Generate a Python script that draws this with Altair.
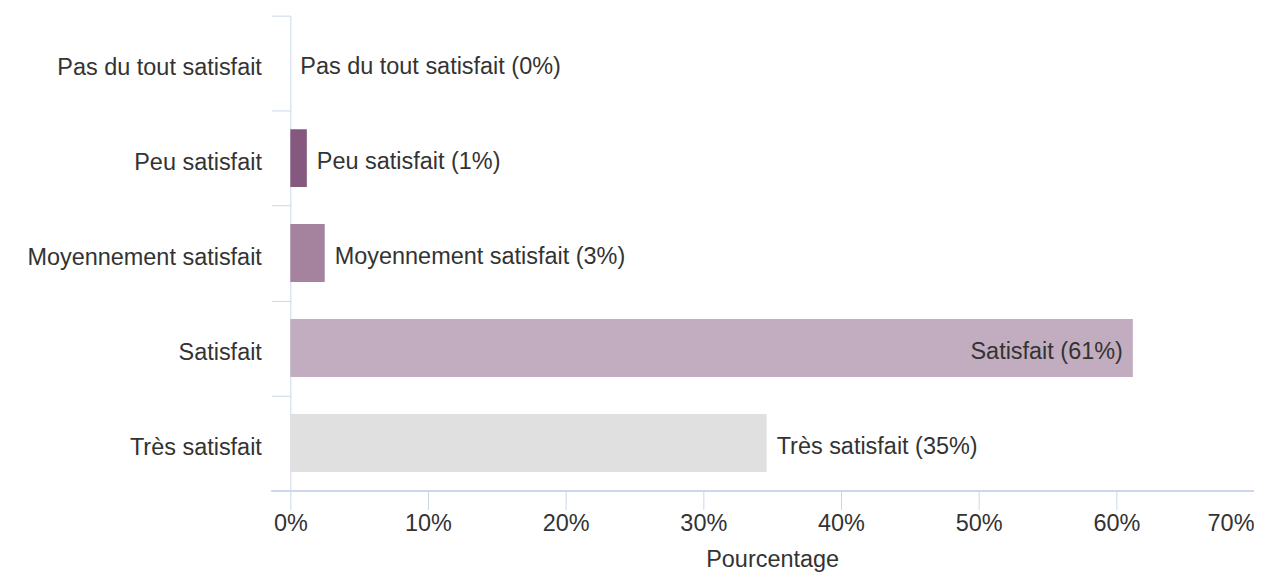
import altair as alt
import pandas as pd

categories = ["Pas du tout satisfait", "Peu satisfait", "Moyennement satisfait", "Satisfait", "Très satisfait"]
values = [0.0, 1.2, 2.5, 61.2, 34.6]
label_pct = [0, 1, 3, 61, 35]
colors = ["#ffffff", "#84587f", "#a5839f", "#c1adbf", "#e0e0e0"]
x_ticks = [0, 10, 20, 30, 40, 50, 60, 70]

df = pd.DataFrame({
    "cat": categories,
    "val": values,
    "lab": [f"{c} ({p}%)" for c, p in zip(categories, label_pct)],
})

W, H = 966, 476
STEP = H / len(categories)
AX = "#ccd6eb"
TXT = "#333333"
FS = 23.5
FONT = "Liberation Sans"
DY = 4

y_enc = alt.Y("cat:N", sort=categories, title=None,
              scale=alt.Scale(paddingInner=0.39, paddingOuter=0.195),
              axis=alt.Axis(tickOffset=-STEP / 2, labelOffset=STEP / 2 + DY,
                            tickSize=19, tickColor=AX, domainColor=AX,
                            labelFontSize=FS, labelColor=TXT, labelFont=FONT, labelPadding=10,
                            labelLimit=400))
x_enc = alt.X("val:Q", title="Pourcentage",
              scale=alt.Scale(domain=[0, 70], nice=False),
              axis=alt.Axis(values=x_ticks, labelExpr="datum.value + '%'", grid=False,
                            domain=False, tickSize=19, tickColor=AX,
                            labelFontSize=FS, labelColor=TXT, labelFont=FONT, labelPadding=2,
                            labelAlign={"condition": {"test": "datum.value == 70", "value": "right"}, "value": "center"},
                            titleFontSize=FS, titleColor=TXT, titleFont=FONT, titleFontWeight="normal",
                            titlePadding=13))

bars = alt.Chart(df).mark_bar().encode(
    x=x_enc, y=y_enc,
    color=alt.Color("cat:N", sort=categories, scale=alt.Scale(domain=categories, range=colors), legend=None),
)

outside = alt.Chart(df).transform_filter("datum.val < 50").mark_text(
    align="left", baseline="middle", dx=10, dy=DY, fontSize=FS, font=FONT, color=TXT
).encode(x="val:Q", y=alt.Y("cat:N", sort=categories), text="lab:N")

inside = alt.Chart(df).transform_filter("datum.val >= 50").mark_text(
    align="right", baseline="middle", dx=-10, dy=DY, fontSize=FS, font=FONT, color=TXT
).encode(x="val:Q", y=alt.Y("cat:N", sort=categories), text="lab:N")

base_line = alt.Chart(df).mark_rule(color=AX, strokeWidth=1).encode(
    x=alt.value(-19), x2=alt.value(W + 0.5), y=alt.value(H + 0.5)
)

chart = alt.layer(bars, outside, inside, base_line).properties(
    width=W, height=H,
    autosize=alt.AutoSizeParams(type="none"),
    padding={"left": 283, "top": 7, "right": 0, "bottom": 82},
).configure_view(stroke=None).configure_axis(domainWidth=1, tickWidth=1)

chart.save("out.html", embed_options={"renderer": "svg", "actions": False})
